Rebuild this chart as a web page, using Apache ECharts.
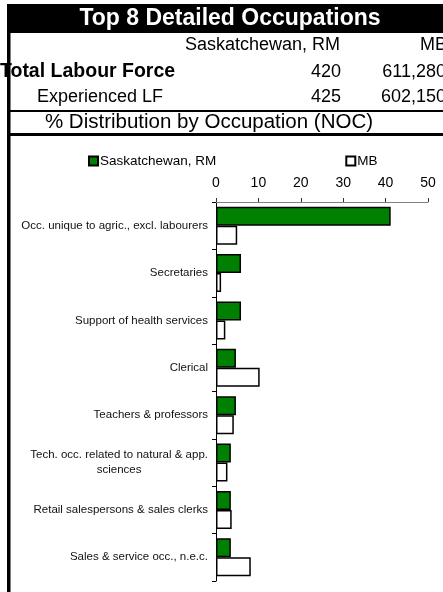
<!DOCTYPE html>
<html>
<head>
<meta charset="utf-8">
<title>Top 8 Detailed Occupations</title>
<script src="https://cdn.jsdelivr.net/npm/echarts@6/dist/echarts.min.js"></script>
<style>
  html, body { margin: 0; padding: 0; background: #fff; }
  #chart { width: 443px; height: 592px; }
</style>
</head>
<body>
<div id="chart"></div>
<script>
// Header table
const areaNames = ['Saskatchewan, RM', 'MB'];
const totalLabourForce = ['420', '611,280'];
const experiencedLF = ['425', '602,150'];

// Occupation categories (NOC) and % distribution
const occupations = [
  'Occ. unique to agric., excl. labourers',
  'Secretaries',
  'Support of health services',
  'Clerical',
  'Teachers & professors',
  'Tech. occ. related to natural & app.\nsciences',
  'Retail salespersons & sales clerks',
  'Sales & service occ., n.e.c.'
];
const rmShare = [41.2, 5.9, 5.9, 4.7, 4.7, 3.5, 3.5, 3.5];
const mbShare = [5.0, 1.2, 2.2, 10.3, 4.2, 2.7, 3.7, 8.2];

const axisTicks = [0, 10, 20, 30, 40, 50];

const FONT = '"Liberation Sans", Arial, Helvetica, sans-serif';

const chart = echarts.init(document.getElementById('chart'), null, { renderer: 'canvas' });

const txt = (x, y, text, opts) => ({
  type: 'text',
  x: x, y: y,
  silent: true,
  style: Object.assign({
    text: text,
    font: '18px ' + FONT,
    fill: '#000',
    textAlign: 'left',
    textVerticalAlign: 'middle'
  }, opts || {})
});

const headerGraphics = [
  { type: 'rect', shape: { x: 7, y: 4, width: 436, height: 29 }, style: { fill: '#000' }, silent: true },
  txt(230, 19, 'Top 8 Detailed Occupations', { font: 'bold 23px ' + FONT, fill: '#fff', textAlign: 'center' }),
  txt(340, 45, areaNames[0], { textAlign: 'right' }),
  txt(447, 45, areaNames[1], { textAlign: 'right' }),
  txt(0, 72, 'Total Labour Force', { font: 'bold 19.5px ' + FONT }),
  txt(341, 72, totalLabourForce[0], { textAlign: 'right' }),
  txt(446, 72, totalLabourForce[1], { textAlign: 'right' }),
  txt(37, 97, 'Experienced LF'),
  txt(341, 97, experiencedLF[0], { textAlign: 'right' }),
  txt(446, 97, experiencedLF[1], { textAlign: 'right' }),
  { type: 'rect', shape: { x: 7, y: 110, width: 436, height: 2 }, style: { fill: '#000' }, silent: true },
  txt(209, 122, '% Distribution by Occupation (NOC)', { font: '20.5px ' + FONT, textAlign: 'center' }),
  { type: 'rect', shape: { x: 7, y: 133, width: 436, height: 3 }, style: { fill: '#000' }, silent: true },
  { type: 'rect', shape: { x: 7, y: 33, width: 3.5, height: 559 }, style: { fill: '#000' }, silent: true }
];

const barBorder = { borderColor: '#000', borderWidth: 1.5 };

chart.setOption({
  animation: false,
  backgroundColor: '#fff',
  textStyle: { fontFamily: FONT },
  graphic: headerGraphics,
  legend: {
    left: 88,
    top: 154,
    icon: 'rect',
    itemWidth: 9,
    itemHeight: 9,
    itemGap: 129,
    padding: 0,
    textStyle: { fontSize: 13.5, color: '#000', fontFamily: FONT, padding: [0, 0, 0, -3] },
    data: [areaNames[0], areaNames[1]]
  },
  grid: { left: 216, right: 15, top: 202, bottom: 11, containLabel: false },
  xAxis: {
    type: 'value',
    position: 'top',
    min: axisTicks[0],
    max: axisTicks[axisTicks.length - 1],
    interval: axisTicks[1] - axisTicks[0],
    axisLine: { show: true, lineStyle: { color: '#808080', width: 1 } },
    axisTick: { show: true, length: 4, lineStyle: { color: '#333' } },
    axisLabel: { fontSize: 14, color: '#000', margin: 12, fontFamily: FONT },
    splitLine: { show: false }
  },
  yAxis: {
    type: 'category',
    inverse: true,
    data: occupations,
    axisLine: { show: true, lineStyle: { color: '#000', width: 1 } },
    axisTick: { show: true, length: 4, lineStyle: { color: '#000' } },
    axisLabel: {
      fontSize: 11.5,
      color: '#111',
      margin: 8,
      fontFamily: FONT,
      lineHeight: 15,
      formatter: function (v) {
        return v.split('\n').map(function (l) { return '{c|' + l + '}'; }).join('\n');
      },
      rich: { c: { align: 'center', fontSize: 11.5, color: '#111', fontFamily: FONT, lineHeight: 15 } }
    }
  },
  series: [
    {
      name: areaNames[0],
      type: 'bar',
      data: rmShare,
      barGap: '0%',
      barCategoryGap: '20%',
      itemStyle: Object.assign({ color: '#008000' }, barBorder)
    },
    {
      name: areaNames[1],
      type: 'bar',
      data: mbShare,
      barGap: '0%',
      barCategoryGap: '20%',
      itemStyle: Object.assign({ color: '#ffffff' }, barBorder)
    }
  ]
});
</script>
</body>
</html>
